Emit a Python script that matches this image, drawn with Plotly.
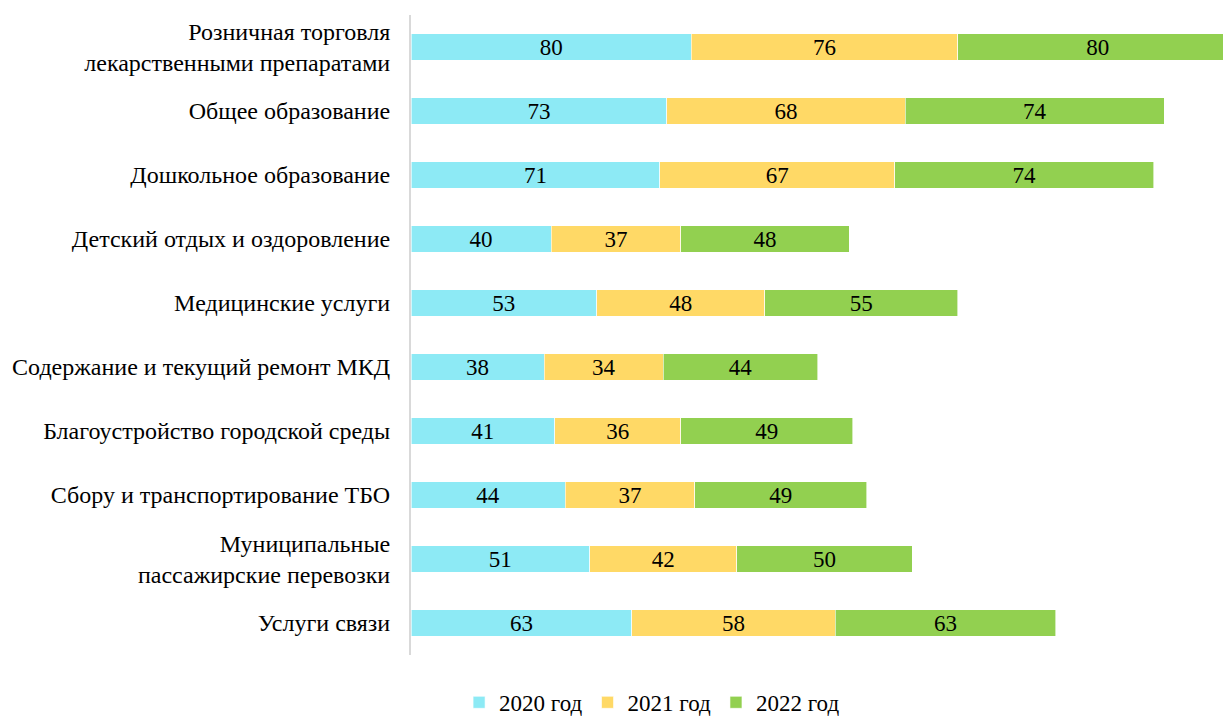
import plotly.graph_objects as go

categories = [
    "Розничная торговля<br>лекарственными препаратами",
    "Общее образование",
    "Дошкольное образование",
    "Детский отдых и оздоровление",
    "Медицинские услуги",
    "Содержание и текущий ремонт МКД",
    "Благоустройство городской среды",
    "Сбору и транспортирование ТБО",
    "Муниципальные<br>пассажирские перевозки",
    "Услуги связи",
]
v2020 = [80, 73, 71, 40, 53, 38, 41, 44, 51, 63]
v2021 = [76, 68, 67, 37, 48, 34, 36, 37, 42, 58]
v2022 = [80, 74, 74, 48, 55, 44, 49, 49, 50, 63]
series_names = ["2020 год", "2021 год", "2022 год"]
colors = ["#8DEAF5", "#FFD966", "#92D050"]

font = "'Liberation Serif', 'Times New Roman', Times, serif"

fig = go.Figure()
for name, vals, col in zip(series_names, [v2020, v2021, v2022], colors):
    fig.add_trace(go.Bar(
        y=categories, x=vals, name=name, orientation="h",
        marker=dict(color=col, line=dict(color="white", width=0.6)),
        text=vals, textposition="inside", insidetextanchor="middle", textangle=0,
        textfont=dict(family=font, size=23, color="black"),
        constraintext="none", cliponaxis=True,
    ))

fig.update_layout(
    barmode="stack",
    bargap=0.59,
    width=1223, height=708,
    margin=dict(l=403, r=0, t=7, b=61, autoexpand=False),
    paper_bgcolor="white", plot_bgcolor="white",
    font=dict(family=font, size=23, color="black"),
    showlegend=True,
    legend=dict(orientation="h", x=0.294, xanchor="center", y=-0.074, yanchor="middle",
                font=dict(family=font, size=23), traceorder="normal", itemwidth=30),
)
fig.update_xaxes(range=[0, 234], visible=False, showgrid=False, zeroline=False, automargin=False)
fig.update_yaxes(autorange="reversed", showline=True, linecolor="#D9D9D9", linewidth=2,
                 ticks="", ticklabelstandoff=14, automargin=False,
                 tickfont=dict(family=font, size=24))

fig.write_html("out.html")
